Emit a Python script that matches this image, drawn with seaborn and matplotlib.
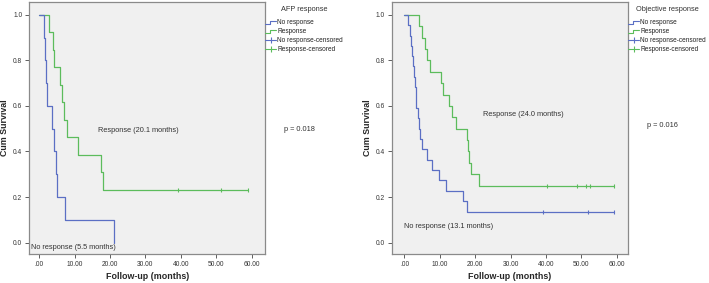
import numpy as np
import pandas as pd
import matplotlib
matplotlib.use("Agg")
import matplotlib.pyplot as plt
import seaborn as sns
from matplotlib.lines import Line2D
from matplotlib.legend_handler import HandlerBase

sns.set_theme(style="white")
plt.rcParams['font.family'] = ['Liberation Sans', 'DejaVu Sans']

# ---------------- data ----------------
# Panel 1: AFP response
afp_no_t = [1.4, 1.7, 2.0, 2.3, 3.6, 4.2, 4.7, 5.1, 7.3, 21.2]
afp_no_s = [0.9, 0.8, 0.7, 0.6, 0.5, 0.4, 0.3, 0.2, 0.1, 0.0]
afp_no_cens = []
afp_yes_t = [2.8, 3.8, 4.2, 6.0, 6.4, 6.9, 7.8, 11.1, 17.4, 17.9]
afp_yes_s = [0.923, 0.846, 0.769, 0.692, 0.615, 0.538, 0.462, 0.385, 0.308, 0.231]
afp_yes_cens = [39.3, 51.3, 59.1]

# Panel 2: Objective response
obj_no_t = [1.1, 1.5, 1.8, 2.1, 2.3, 2.6, 2.9, 3.2, 3.4, 3.7, 4.0, 4.4, 4.9,
            6.3, 7.7, 9.9, 11.7, 16.5, 17.8]
obj_no_s = [0.955, 0.909, 0.864, 0.818, 0.773, 0.727, 0.682, 0.636, 0.591,
            0.545, 0.500, 0.455, 0.409, 0.364, 0.318, 0.273, 0.227, 0.182, 0.136]
obj_no_cens = [39.3, 52.0, 59.2]
obj_yes_t = [4.2, 4.9, 5.8, 6.3, 7.3, 10.3, 11.0, 12.6, 13.4, 14.5, 17.6, 17.9,
             18.3, 18.8, 21.1]
obj_yes_s = [0.95, 0.90, 0.85, 0.80, 0.75, 0.70, 0.65, 0.60, 0.55, 0.50, 0.45,
             0.40, 0.35, 0.30, 0.25]
obj_yes_cens = [40.2, 48.7, 51.2, 52.4, 59.1]

x_ticks = [0, 10, 20, 30, 40, 50, 60]
x_tick_labels = [".00", "10.00", "20.00", "30.00", "40.00", "50.00", "60.00"]
y_ticks = [0.0, 0.2, 0.4, 0.6, 0.8, 1.0]
y_tick_labels = ["0.0", "0.2", "0.4", "0.6", "0.8", "1.0"]

legend_titles = ["AFP response", "Objective response"]
legend_labels = ["No response", "Response", "No response-censored", "Response-censored"]
resp_labels = [["Response (20.1 months)", "No response (5.5 months)"],
               ["Response (24.0 months)", "No response (13.1 months)"]]
p_values = ["p = 0.018", "p = 0.016"]

BLUE = "#5b6fc4"
GREEN = "#5cbc5c"
BG = "#f0f0f0"
EDGE = "#8a8a8a"


def curve(times, surv, cens):
    t = [0.0] + list(times)
    s = [1.0] + list(surv)
    if cens:
        t.append(max(cens))
        s.append(s[-1])
    return pd.DataFrame({"t": t, "s": s})


class StepHandler(HandlerBase):
    def create_artists(self, legend, orig_handle, xdescent, ydescent, width, height, fontsize, trans):
        c = orig_handle.get_color()
        xs = [-xdescent, -xdescent + width * 0.45, -xdescent + width * 0.45, -xdescent + width]
        ys = [-ydescent + height * 0.15, -ydescent + height * 0.15,
              -ydescent + height * 0.85, -ydescent + height * 0.85]
        ln = Line2D(xs, ys, color=c, lw=0.8, transform=trans)
        return [ln]


class CensHandler(HandlerBase):
    def create_artists(self, legend, orig_handle, xdescent, ydescent, width, height, fontsize, trans):
        c = orig_handle.get_color()
        y = -ydescent + height / 2
        ln = Line2D([-xdescent, -xdescent + width], [y, y], color=c, lw=0.8, transform=trans)
        mk = Line2D([-xdescent + width / 2], [y], color=c, marker="|", ms=5, mew=0.8,
                    linestyle="none", transform=trans)
        return [ln, mk]


fig = plt.figure(figsize=(7.09, 2.83), dpi=100)
ax_pos = [[0.0413, 0.1025, 0.3325, 0.892], [0.5525, 0.1025, 0.3333, 0.892]]
xlims = [(-2.8, 63.8), (-3.6, 63.2)]

panels = [
    (afp_no_t, afp_no_s, afp_no_cens, afp_yes_t, afp_yes_s, afp_yes_cens),
    (obj_no_t, obj_no_s, obj_no_cens, obj_yes_t, obj_yes_s, obj_yes_cens),
]
resp_pos = [[(16.5, 0.494), (-2.3, -0.02)], [(22.3, 0.564), (0.0, 0.07)]]
p_pos = [(0.400, 0.541), (0.912, 0.555)]
ylabel_x = [0.007, 0.519]
leg_anchor = [(0.372, 0.985), (0.884, 0.985)]

for i, (nt, ns, nc, yt, ys, yc) in enumerate(panels):
    ax = fig.add_axes(ax_pos[i])
    ax.set_facecolor(BG)
    dn = curve(nt, ns, nc)
    dy = curve(yt, ys, yc)
    sns.lineplot(data=dy, x="t", y="s", ax=ax, color=GREEN, lw=0.9,
                 drawstyle="steps-post", estimator=None, sort=False)
    sns.lineplot(data=dn, x="t", y="s", ax=ax, color=BLUE, lw=0.9,
                 drawstyle="steps-post", estimator=None, sort=False)
    if yc:
        sns.scatterplot(x=yc, y=[ys[-1]] * len(yc), ax=ax, color=GREEN, marker="|",
                        s=12, linewidth=0.8)
    if nc:
        sns.scatterplot(x=nc, y=[ns[-1]] * len(nc), ax=ax, color=BLUE, marker="|",
                        s=12, linewidth=0.8)

    ax.set_xlim(*xlims[i])
    ax.set_ylim(-0.05, 1.058)
    ax.set_xticks(x_ticks)
    ax.set_xticklabels(x_tick_labels, fontsize=4.8, color="#333333")
    ax.set_yticks(y_ticks)
    ax.set_yticklabels(y_tick_labels, fontsize=4.8, color="#333333")
    ax.tick_params(axis="both", direction="out", length=3, width=0.6, color="#444444", pad=2)
    ax.tick_params(left=True, bottom=True)
    for sp in ax.spines.values():
        sp.set_color(EDGE)
        sp.set_linewidth(0.9)
    ax.set_xlabel("Follow-up (months)", fontsize=6.4, fontweight="bold", labelpad=3)
    ax.set_ylabel("")
    fig.text(ylabel_x[i], ax_pos[i][1] + ax_pos[i][3] / 2, "Cum Survival", rotation=90,
             fontsize=6.4, fontweight="bold", ha="center", va="center")

    (rx, ry), (nx, ny) = resp_pos[i]
    ax.text(rx, ry, resp_labels[i][0], fontsize=5.3, color="#333333", va="center", ha="left")
    ax.text(nx, ny, resp_labels[i][1], fontsize=5.3, color="#333333", va="center", ha="left")
    fig.text(p_pos[i][0], p_pos[i][1], p_values[i], fontsize=5.3, color="#333333",
             va="center", ha="left")

    handles = [Line2D([], [], color=BLUE), Line2D([], [], color=GREEN),
               Line2D([], [], color=BLUE, ls="--"), Line2D([], [], color=GREEN, ls="--")]
    hmap = {handles[0]: StepHandler(), handles[1]: StepHandler(),
            handles[2]: CensHandler(), handles[3]: CensHandler()}
    leg = fig.legend(handles, legend_labels, title=legend_titles[i], loc="upper left",
                     bbox_to_anchor=leg_anchor[i], frameon=False, fontsize=4.7,
                     title_fontsize=5.3, handlelength=1.7, handletextpad=0.15,
                     labelspacing=0.3, borderaxespad=0, borderpad=0.2,
                     handler_map=hmap)
    leg._legend_box.sep = 5
    leg.get_title().set_color("#333333")
    for t in leg.get_texts():
        t.set_color("#222222")

fig.savefig("out.png", dpi=100)
